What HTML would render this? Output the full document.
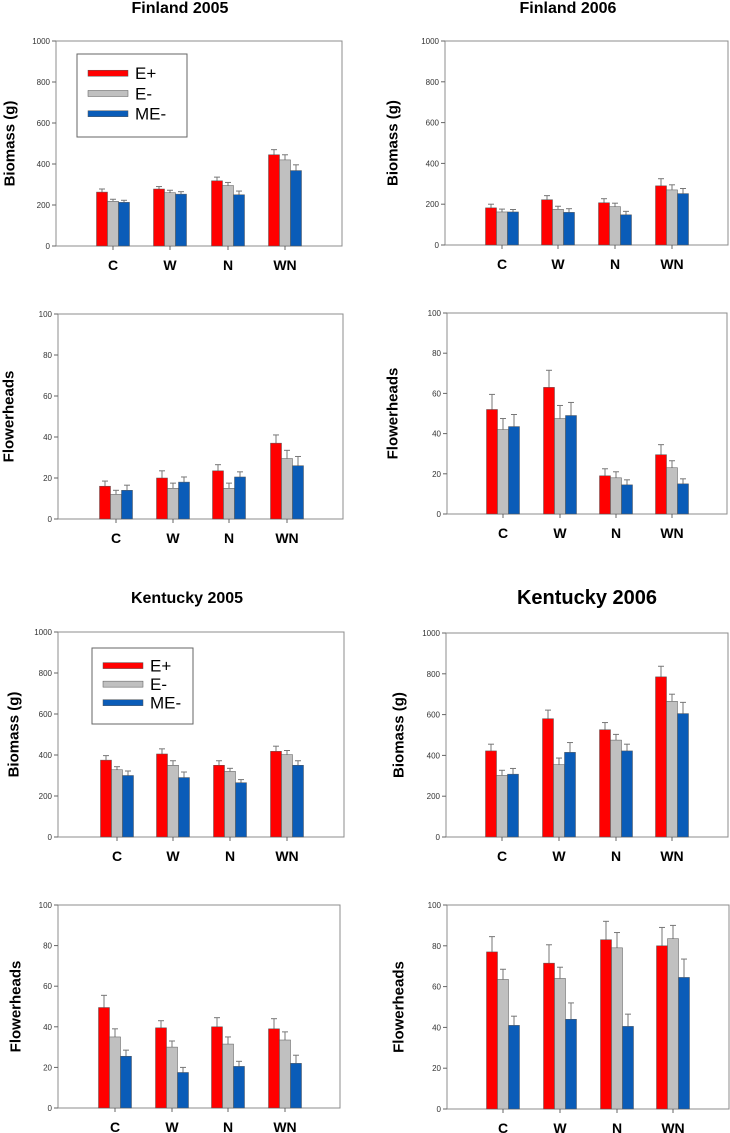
<!DOCTYPE html>
<html><head><meta charset="utf-8">
<style>
html,body{margin:0;padding:0;background:#fff;}
svg{display:block;font-family:"Liberation Sans",Arial,sans-serif;}
</style></head>
<body>
<svg id="fig" width="730" height="1133" viewBox="0 0 730 1133" xmlns="http://www.w3.org/2000/svg"></svg>
<script>
const categories = ["C","W","N","WN"];
const seriesNames = ["E+","E-","ME-"];
const seriesColors = ["#ff0000","#c0c0c0","#0a5cb8"];
const bioTicks = [0,200,400,600,800,1000];
const flowTicks = [0,20,40,60,80,100];

const fin05BioVals = [[263,278,318,445],[218,260,295,420],[213,253,250,368]];
const fin05BioErr  = [[15,12,18,25],[10,12,15,25],[10,12,18,28]];
const fin06BioVals = [[182,222,207,290],[162,175,188,270],[162,160,148,252]];
const fin06BioErr  = [[18,20,20,35],[14,15,17,25],[12,18,17,25]];
const fin05FlowVals = [[16,20,23.5,37],[12,15,15,29.5],[14,18,20.5,26]];
const fin05FlowErr  = [[2.5,3.5,3,4],[2,2.5,2.5,4],[2.5,2.5,2.5,4.5]];
const fin06FlowVals = [[52,63,19,29.5],[42,47.5,18,23],[43.5,49,14.5,15]];
const fin06FlowErr  = [[7.5,8.5,3.5,5],[5.5,6.5,3,3.5],[6,6.5,2.5,2.5]];
const ken05BioVals = [[375,405,350,418],[328,350,320,402],[300,290,265,350]];
const ken05BioErr  = [[22,25,22,25],[15,22,15,20],[22,27,15,22]];
const ken06BioVals = [[422,580,526,785],[302,355,475,665],[308,415,422,605]];
const ken06BioErr  = [[33,42,35,52],[25,32,28,35],[28,48,33,55]];
const ken05FlowVals = [[49.5,39.5,40,39],[35,30,31.5,33.5],[25.5,17.5,20.5,22]];
const ken05FlowErr  = [[6,3.5,4.5,5],[4,3,3.5,4],[3,2.5,2.5,4]];
const ken06FlowVals = [[77,71.5,83,80],[63.5,64,79,83.5],[41,44,40.5,64.5]];
const ken06FlowErr  = [[7.5,9,9,9],[5,5.5,7.5,6.5],[4.5,8,6,9]];

const NS="http://www.w3.org/2000/svg";
const svg=document.getElementById('fig');
function mk(tag,attrs,parent){const e=document.createElementNS(NS,tag);for(const k in attrs)e.setAttribute(k,attrs[k]);(parent||svg).appendChild(e);return e;}

const panels=[
 {id:"finland-2005-biomass",L:56,R:342,T:41,B:246,centers:[113,170,228,285],vals:fin05BioVals,err:fin05BioErr,ticks:bioTicks,max:1000,ylab:"Biomass (g)",ylx:10,title:"Finland 2005",tx:180,ty:13,tsize:16,legend:{x:77,y:54,w:110,h:83}},
 {id:"finland-2006-biomass",L:445,R:728,T:41,B:245,centers:[502,558,615,672],vals:fin06BioVals,err:fin06BioErr,ticks:bioTicks,max:1000,ylab:"Biomass (g)",ylx:393,title:"Finland 2006",tx:568,ty:13,tsize:16},
 {id:"finland-2005-flowerheads",L:58,R:343,T:314,B:519,centers:[116,173,229,287],vals:fin05FlowVals,err:fin05FlowErr,ticks:flowTicks,max:100,ylab:"Flowerheads",ylx:9},
 {id:"finland-2006-flowerheads",L:447,R:727,T:313,B:514,centers:[503,560,616,672],vals:fin06FlowVals,err:fin06FlowErr,ticks:flowTicks,max:100,ylab:"Flowerheads",ylx:393},
 {id:"kentucky-2005-biomass",L:58,R:344,T:632,B:837,centers:[117,173,230,287],vals:ken05BioVals,err:ken05BioErr,ticks:bioTicks,max:1000,ylab:"Biomass (g)",ylx:14,title:"Kentucky 2005",tx:187,ty:603,tsize:16,legend:{x:92,y:648,w:101,h:76}},
 {id:"kentucky-2006-biomass",L:446,R:728,T:633,B:837,centers:[502,559,616,672],vals:ken06BioVals,err:ken06BioErr,ticks:bioTicks,max:1000,ylab:"Biomass (g)",ylx:399,title:"Kentucky 2006",tx:587,ty:604,tsize:20},
 {id:"kentucky-2005-flowerheads",L:58,R:340,T:905,B:1108,centers:[115,172,228,285],vals:ken05FlowVals,err:ken05FlowErr,ticks:flowTicks,max:100,ylab:"Flowerheads",ylx:16},
 {id:"kentucky-2006-flowerheads",L:447,R:729,T:905,B:1109,centers:[503,560,617,673],vals:ken06FlowVals,err:ken06FlowErr,ticks:flowTicks,max:100,ylab:"Flowerheads",ylx:399}
];

const BW=11;
panels.forEach(p=>{
  const g=mk('g',{});
  
  
  const y=v=>p.B-(v/p.max)*(p.B-p.T);
  if(p.title){
    const t=mk('text',{x:p.tx,y:p.ty,'text-anchor':'middle','font-size':p.tsize,'font-weight':'bold',fill:'#000'},g);
    t.textContent=p.title;
    
    
  }
  const fr=mk('rect',{x:p.L,y:p.T,width:p.R-p.L,height:p.B-p.T,fill:'none',stroke:'#8c8c8c','stroke-width':1},g);
  
  
  p.ticks.forEach(tv=>{
    const ty=y(tv);
    mk('line',{x1:p.L-4,x2:p.L,y1:ty,y2:ty,stroke:'#666','stroke-width':1},g);
    const tl=mk('text',{x:p.L-6,y:ty+3,'text-anchor':'end','font-size':8,fill:'#333'},g);
    tl.textContent=tv;
    
    
  });
  const yl=mk('text',{x:p.ylx,y:(p.T+p.B)/2,'text-anchor':'middle','font-size':15,'font-weight':'bold',transform:`rotate(-90 ${p.ylx} ${(p.T+p.B)/2})`,'dominant-baseline':'central'},g);
  yl.textContent=p.ylab;
  
  
  categories.forEach((c,ci)=>{
    const cx=p.centers[ci];
    mk('line',{x1:cx,x2:cx,y1:p.B,y2:p.B+4,stroke:'#666','stroke-width':1},g);
    const cl=mk('text',{x:cx,y:p.B+24,'text-anchor':'middle','font-size':14,'font-weight':'bold'},g);
    cl.textContent=c;
    
    
    for(let s=0;s<3;s++){
      const v=p.vals[s][ci], e=p.err[s][ci];
      const bx=cx-1.5*BW+s*BW;
      const top=y(v);
      const eb=mk('line',{x1:bx+BW/2,x2:bx+BW/2,y1:y(v+e),y2:top,stroke:'#777','stroke-width':1},g);
      
      
      mk('line',{x1:bx+BW/2-3,x2:bx+BW/2+3,y1:y(v+e),y2:y(v+e),stroke:'#777','stroke-width':1},g);
      const r=mk('rect',{x:bx,y:top,width:BW,height:p.B-top,fill:seriesColors[s],stroke:'#555','stroke-width':0.5},g);
      
      
    }
  });
  if(p.legend){
    const lg=p.legend;
    const lgg=mk('g',{},g);
    
    
    mk('rect',{x:lg.x,y:lg.y,width:lg.w,height:lg.h,fill:'#fff',stroke:'#666','stroke-width':1},lgg);
    const step=lg.h/4.1;
    seriesNames.forEach((n,i)=>{
      const ry=lg.y+step*(i+0.95);
      mk('rect',{x:lg.x+11,y:ry-3,width:40,height:6,fill:seriesColors[i],stroke:'#555','stroke-width':0.5},lgg);
      const lt=mk('text',{x:lg.x+58,y:ry+6,'font-size':17,fill:'#000'},lgg);
      lt.textContent=n;
      
      
    });
  }
});
</script>
</body></html>
